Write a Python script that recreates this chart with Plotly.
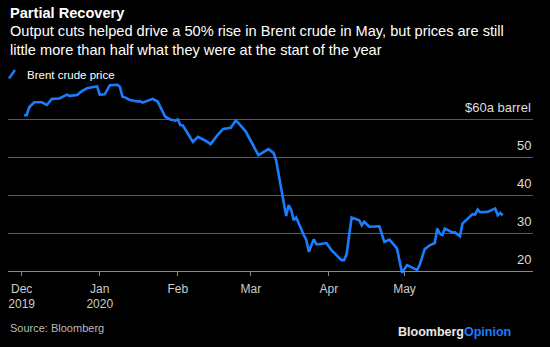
import plotly.graph_objects as go

dates = [
    "2019-12-02", "2019-12-03", "2019-12-04", "2019-12-06", "2019-12-09", "2019-12-11", "2019-12-13",
    "2019-12-16", "2019-12-18", "2019-12-19", "2019-12-20", "2019-12-23", "2019-12-25", "2019-12-27",
    "2019-12-30", "2019-12-31",
    "2020-01-01", "2020-01-03", "2020-01-05", "2020-01-08", "2020-01-09", "2020-01-10", "2020-01-11",
    "2020-01-13", "2020-01-16", "2020-01-17", "2020-01-18", "2020-01-20", "2020-01-22", "2020-01-24",
    "2020-01-27", "2020-01-29", "2020-01-31",
    "2020-02-01", "2020-02-02", "2020-02-03", "2020-02-06", "2020-02-07", "2020-02-09", "2020-02-12",
    "2020-02-14", "2020-02-17", "2020-02-19", "2020-02-22", "2020-02-24", "2020-02-25", "2020-02-28",
    "2020-03-04", "2020-03-08", "2020-03-09", "2020-03-10", "2020-03-11", "2020-03-13", "2020-03-15",
    "2020-03-16", "2020-03-17", "2020-03-18", "2020-03-19", "2020-03-22", "2020-03-23", "2020-03-24",
    "2020-03-26", "2020-03-27", "2020-03-28", "2020-03-31",
    "2020-04-02", "2020-04-06", "2020-04-07", "2020-04-08", "2020-04-09", "2020-04-10", "2020-04-13",
    "2020-04-14", "2020-04-15", "2020-04-17", "2020-04-21", "2020-04-23", "2020-04-25", "2020-04-28",
    "2020-04-30",
    "2020-05-02", "2020-05-06", "2020-05-07", "2020-05-09", "2020-05-11", "2020-05-13", "2020-05-14",
    "2020-05-15", "2020-05-16", "2020-05-17", "2020-05-20", "2020-05-21", "2020-05-23", "2020-05-24",
    "2020-05-28", "2020-05-29", "2020-05-30", "2020-05-31",
    "2020-06-03", "2020-06-06", "2020-06-07", "2020-06-08", "2020-06-09",
]
prices = [
    61.0, 61.0, 63.1, 64.4, 64.4, 63.7, 65.3,
    65.4, 66.1, 66.4, 66.1, 66.3, 67.4, 68.1,
    68.5, 68.6,
    66.4, 66.5, 68.9, 69.0, 68.5, 65.9, 65.7,
    65.0, 64.6, 64.7, 64.3, 64.8, 65.3, 64.6,
    60.6, 59.9, 59.6,
    59.9, 58.4, 58.3, 54.9, 54.0, 55.3, 54.3,
    53.4, 56.0, 57.4, 57.7, 59.6, 59.0, 56.7,
    50.5, 52.1, 51.7, 51.1, 49.2, 42.2, 34.5,
    37.4, 36.1, 33.4, 34.1, 29.5, 28.2, 25.1,
    28.4, 27.1, 27.1, 27.4,
    25.5, 22.9, 22.9, 24.5, 30.0, 34.1, 33.4,
    32.1, 33.0, 31.7, 31.8, 27.7, 28.3, 26.0,
    19.6,
    21.6, 20.3, 21.6, 25.8, 26.8, 27.4, 31.2,
    29.9, 29.5, 31.2, 30.2, 30.2, 29.2, 32.5,
    35.0, 34.9, 36.2, 35.5,
    35.6, 36.5, 34.7, 35.3, 34.7,
]

tick_dates = ["2019-12-01", "2020-01-01", "2020-02-01", "2020-03-01", "2020-04-01", "2020-05-01"]
tick_labels = ["Dec<br>2019", "Jan<br>2020", "Feb", "Mar", "Apr", "May"]
y_grid = [30, 40, 50, 60]
y_labels = {20: "20", 30: "30", 40: "40", 50: "50", 60: "$60a barrel"}

BLUE = "#1a7dff"
GRID = "#5a5a5a"
FONT = "Liberation Sans, Arial, sans-serif"

Y0, Y1 = 19.0, 70.0

fig = go.Figure()
fig.add_trace(go.Scatter(
    x=dates, y=prices, mode="lines",
    line=dict(color=BLUE, width=2.6),
    showlegend=False, hoverinfo="skip",
))

plot_bottom = 274.8
plot_h = 193.8
plot_left = 8
plot_w = 525

def py(px):
    return (plot_bottom - px) / plot_h

def px_(x):
    return (x - plot_left) / plot_w

ann = []
ann.append(dict(text="<b>Partial Recovery</b>", x=0, y=py(13), xref="paper", yref="paper",
                xanchor="left", yanchor="middle", showarrow=False,
                font=dict(size=14.6, color="#ffffff", family=FONT)))
ann.append(dict(text="Output cuts helped drive a 50% rise in Brent crude in May, but prices are still<br>"
                     "little more than half what they were at the start of the year",
                x=0, y=py(40.5), xref="paper", yref="paper", align="left",
                xanchor="left", yanchor="middle", showarrow=False,
                font=dict(size=14.6, color="#ffffff", family=FONT)))
ann.append(dict(text="Brent crude price", x=px_(25), y=py(75), xref="paper", yref="paper",
                xanchor="left", yanchor="middle", showarrow=False,
                font=dict(size=11.5, color="#ffffff", family=FONT)))
for v, t in y_labels.items():
    ann.append(dict(text=t, x=1, y=v, xref="paper", yref="y", xanchor="right",
                    yanchor="middle", yshift=12, showarrow=False,
                    font=dict(size=13, color="#dddddd", family=FONT)))
ann.append(dict(text="Source: Bloomberg", x=0, y=py(328), xref="paper", yref="paper",
                xanchor="left", yanchor="middle", showarrow=False,
                font=dict(size=11, color="#bbbbbb", family=FONT)))
ann.append(dict(text="<b><span style='color:#e8e8e8'>Bloomberg</span><span style='color:#1a7dff'>Opinion</span></b>",
                x=px_(513), y=py(332), xref="paper", yref="paper",
                xanchor="right", yanchor="middle", showarrow=False,
                font=dict(size=12.5, color="#e8e8e8", family=FONT)))

shapes = [dict(type="line", xref="paper", yref="paper",
               x0=px_(9), y0=py(78.5), x1=px_(15), y1=py(70),
               line=dict(color=BLUE, width=2.5))]

fig.update_layout(
    width=550, height=347,
    margin=dict(l=plot_left, r=550 - plot_left - plot_w, t=81, b=347 - 81 - 193.8),
    paper_bgcolor="#000000", plot_bgcolor="#000000",
    annotations=ann, shapes=shapes,
    xaxis=dict(
        type="date", range=["2019-11-25 14:00", "2020-06-21"],
        tickvals=tick_dates, ticktext=tick_labels,
        ticks="outside", ticklen=4, tickcolor="#888888", tickwidth=1,
        ticklabelstandoff=2,
        showline=True, linecolor="#888888", linewidth=1,
        showgrid=False, zeroline=False,
        anchor="free", position=(20 - Y0) / (Y1 - Y0),
        tickfont=dict(size=12, color="#cccccc", family=FONT),
    ),
    yaxis=dict(
        range=[Y0, Y1], tickvals=y_grid, showticklabels=False,
        showgrid=True, gridcolor=GRID, gridwidth=1, zeroline=False, showline=False,
    ),
)

fig.write_html("out.html")
